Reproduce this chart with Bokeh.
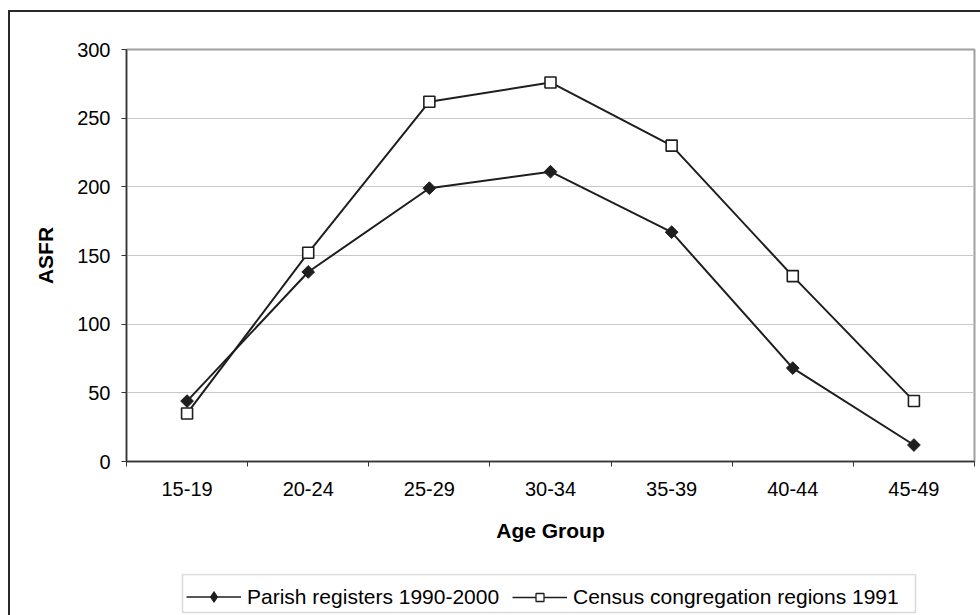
from bokeh.plotting import figure
from bokeh.layouts import column
from bokeh.models import Range1d, FixedTicker, Legend, LegendItem, ColumnDataSource, BoxAnnotation
from bokeh.embed import file_html
from bokeh.resources import INLINE
import numpy as np

age_groups = ["15-19", "20-24", "25-29", "30-34", "35-39", "40-44", "45-49"]
parish = [44, 138, 199, 211, 167, 68, 12]
census = [35, 152, 262, 276, 230, 135, 44]
y_ticks = [0, 50, 100, 150, 200, 250, 300]
series_names = ["Parish registers 1990-2000", "Census congregation regions 1991"]

FONT = "Liberation Sans"
LINE = "#1e1e1e"
x = [i + 0.5 for i in range(len(age_groups))]
bounds = list(range(len(age_groups) + 1))

src = ColumnDataSource(dict(x=x, parish=parish, census=census))

p = figure(width=970, height=559, output_backend="svg", toolbar_location=None,
           x_range=Range1d(0, len(age_groups)), y_range=Range1d(0, 300),
           min_border_left=116, min_border_right=6, min_border_top=37, min_border_bottom=110)

p.outline_line_color = "#a0a0a0"
p.outline_line_width = 2
p.background_fill_color = "white"
p.border_fill_color = "white"

p.xgrid.visible = False
p.ygrid.grid_line_color = "#c8c8c8"
p.ygrid.grid_line_width = 1

# y axis
p.yaxis.ticker = FixedTicker(ticks=y_ticks)
p.yaxis.axis_label = "ASFR"
p.yaxis.axis_label_text_font = FONT
p.yaxis.axis_label_text_font_size = "21px"
p.yaxis.axis_label_text_font_style = "bold"
p.yaxis.axis_label_text_color = "black"
p.yaxis.axis_label_standoff = 17
p.yaxis.major_label_text_font = FONT
p.yaxis.major_label_text_font_size = "20px"
p.yaxis.major_label_text_color = "black"
p.yaxis.major_label_standoff = 11
p.yaxis.major_tick_out = 5
p.yaxis.major_tick_in = 0
p.yaxis.minor_tick_line_color = None
p.yaxis.axis_line_color = "#333333"
p.yaxis.axis_line_width = 1.5
p.yaxis.major_tick_line_color = "#333333"

# x axis
p.xaxis.ticker = FixedTicker(ticks=x, minor_ticks=bounds)
p.xaxis.major_label_overrides = {xx: lab for xx, lab in zip(x, age_groups)}
p.xaxis.axis_label = "Age Group"
p.xaxis.axis_label_text_font = FONT
p.xaxis.axis_label_text_font_size = "21px"
p.xaxis.axis_label_text_font_style = "bold"
p.xaxis.axis_label_text_color = "black"
p.xaxis.axis_label_standoff = 20
p.xaxis.major_label_text_font = FONT
p.xaxis.major_label_text_font_size = "20px"
p.xaxis.major_label_text_color = "black"
p.xaxis.major_label_standoff = 15
p.xaxis.major_tick_line_color = None
p.xaxis.major_tick_out = 5
p.xaxis.minor_tick_out = 5
p.xaxis.minor_tick_in = 0
p.xaxis.minor_tick_line_color = "#333333"
p.xaxis.axis_line_color = "#333333"
p.xaxis.axis_line_width = 1.5

p.line("x", "parish", source=src, line_color=LINE, line_width=2)
p.scatter("x", "parish", source=src, marker="square", size=9, angle=np.pi / 4,
          fill_color=LINE, line_color=LINE, line_width=1)
p.line("x", "census", source=src, line_color=LINE, line_width=2)
p.scatter("x", "census", source=src, marker="square", size=11,
          fill_color="white", line_color=LINE, line_width=1.6)

# legend strip
q = figure(width=970, height=44, output_backend="svg", toolbar_location=None,
           x_range=Range1d(-10, -9), y_range=Range1d(-10, -9),
           x_axis_type=None, y_axis_type=None,
           min_border_left=116, min_border_right=6, min_border_top=2, min_border_bottom=1)
q.grid.visible = False
q.outline_line_color = None
q.border_fill_color = "white"
q.background_fill_color = "white"

q.add_layout(BoxAnnotation(left=172, right=905, top=3, bottom=41,
                           left_units="canvas", right_units="canvas",
                           top_units="canvas", bottom_units="canvas",
                           fill_alpha=0, line_color="#808080", line_width=1.5))

ql1 = q.line("x", "parish", source=src, line_color=LINE, line_width=1.5)
qm1 = q.scatter("x", "parish", source=src, marker="diamond", size=10,
                fill_color=LINE, line_color=LINE, line_width=1)
ql2 = q.line("x", "census", source=src, line_color=LINE, line_width=1.5)
qm2 = q.scatter("x", "census", source=src, marker="square", size=8,
                fill_color="white", line_color=LINE, line_width=1.3)

common = dict(orientation="horizontal", label_text_font=FONT, label_text_font_size="21px",
              label_text_color="black", glyph_width=55, label_height=27, label_standoff=6,
              padding=6, margin=0, border_line_color=None, background_fill_alpha=0)
leg1 = Legend(items=[LegendItem(label=series_names[0], renderers=[ql1, qm1])],
              location=(60, 4), glyph_height=27, **common)
leg2 = Legend(items=[LegendItem(label=series_names[1], renderers=[ql2, qm2])],
              location=(386, 4), glyph_height=20, **common)
q.add_layout(leg1, "center")
q.add_layout(leg2, "center")

layout = column(p, q, spacing=0)
layout.styles = {"border-left": "2px solid #2a2a2a", "border-top": "2px solid #2a2a2a",
                 "margin-top": "10px", "margin-left": "8px"}

open("out.html", "w").write(file_html(layout, INLINE))
